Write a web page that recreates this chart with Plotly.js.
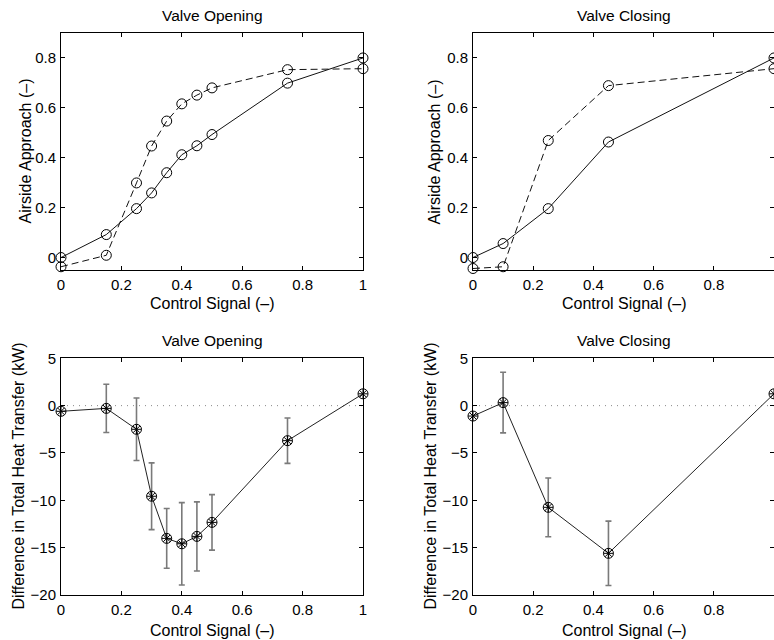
<!DOCTYPE html>
<html>
<head>
<meta charset="utf-8">
<script src="https://cdn.plot.ly/plotly-3.0.1.min.js"></script>
<style>
  html, body { margin: 0; padding: 0; background: #fff; overflow: hidden; }
  #chart { width: 774px; height: 640px; }
</style>
</head>
<body>
<div id="chart"></div>
<script>
// ---- Data ----
// Top-left: Valve Opening, airside approach
const openX = [0, 0.15, 0.25, 0.3, 0.35, 0.4, 0.45, 0.5, 0.75, 1];
const openSolid = [0, 0.092, 0.196, 0.259, 0.34, 0.412, 0.448, 0.493, 0.699, 0.8];
const openDashed = [-0.037, 0.009, 0.299, 0.447, 0.547, 0.616, 0.651, 0.68, 0.753, 0.757];

// Top-right: Valve Closing, airside approach
const closeX = [0, 0.1, 0.25, 0.45, 1];
const closeSolid = [0, 0.056, 0.196, 0.463, 0.8];
const closeDashed = [-0.044, -0.037, 0.469, 0.689, 0.757];

// Bottom-left: Valve Opening, difference in heat transfer
const openDiff = [-0.6, -0.29, -2.5, -9.57, -14.02, -14.59, -13.81, -12.33, -3.7, 1.25];
const openErr = [NaN, 2.55, 3.3, 3.52, 3.15, 4.35, 3.65, 2.93, 2.4, NaN];

// Bottom-right: Valve Closing, difference in heat transfer
const closeDiff = [-1.1, 0.32, -10.74, -15.6, 1.25];
const closeErr = [NaN, 3.2, 3.1, 3.4, NaN];

// Zero reference line
const zeroX = [0, 1];
const zeroY = [0, 0];

// Tick values
const approachTicks = [0, 0.2, 0.4, 0.6, 0.8];
const diffTicks = [-20, -15, -10, -5, 0, 5];
const signalTicks = [0, 0.2, 0.4, 0.6, 0.8, 1];

// Text
const titleOpen = 'Valve Opening';
const titleClose = 'Valve Closing';
const xTitle = 'Control Signal (–)';
const yTitleTop = 'Airside Approach (–)';
const yTitleBottom = 'Difference in Total Heat Transfer (kW)';

// ---- Styling ----
const FONT = 'Liberation Sans, Arial, Helvetica, sans-serif';
const W = 774, H = 640;
const px = v => v / W;
const py = v => 1 - v / H;

const circle = {symbol: 'circle-open', size: 10, color: '#000', line: {width: 1, color: '#000'}};
const star = {symbol: 'asterisk-open', size: 8, color: '#000', line: {width: 1, color: '#000'}};
const solidLine = {color: '#111', width: 1};
const dashedLine = {color: '#111', width: 1, dash: '7px,4px'};
const zeroLine = {color: '#888', width: 1, dash: '1px,5px'};
const errStyle = arr => ({type: 'data', array: arr, visible: true, color: '#7a7a7a', thickness: 1.6, width: 3});

function sc(x, y, xa, ya, extra) {
  return Object.assign({x: x, y: y, xaxis: xa, yaxis: ya, type: 'scatter', cliponaxis: false, hoverinfo: 'skip'}, extra);
}

const data = [
  // top-left
  sc(openX, openSolid, 'x', 'y', {mode: 'lines+markers', line: solidLine, marker: circle}),
  sc(openX, openDashed, 'x', 'y', {mode: 'lines+markers', line: dashedLine, marker: circle}),
  // top-right
  sc(closeX, closeSolid, 'x2', 'y2', {mode: 'lines+markers', line: solidLine, marker: circle}),
  sc(closeX, closeDashed, 'x2', 'y2', {mode: 'lines+markers', line: dashedLine, marker: circle}),
  // bottom-left
  sc(zeroX, zeroY, 'x3', 'y3', {mode: 'lines', line: zeroLine}),
  sc(openX, openDiff, 'x3', 'y3', {mode: 'lines+markers', line: {color: '#222', width: 1}, marker: circle, error_y: errStyle(openErr)}),
  sc(openX, openDiff, 'x3', 'y3', {mode: 'markers', marker: star}),
  // bottom-right
  sc(zeroX, zeroY, 'x4', 'y4', {mode: 'lines', line: zeroLine}),
  sc(closeX, closeDiff, 'x4', 'y4', {mode: 'lines+markers', line: {color: '#222', width: 1}, marker: circle, error_y: errStyle(closeErr)}),
  sc(closeX, closeDiff, 'x4', 'y4', {mode: 'markers', marker: star}),
];

function ax(domain, range, ticks, anchor, extra) {
  return Object.assign({
    domain: domain, range: range, anchor: anchor,
    tickmode: 'array', tickvals: ticks,
    ticks: 'inside', ticklen: 4, tickwidth: 1, tickcolor: '#000',
    showline: true, linecolor: '#000', linewidth: 1, mirror: 'ticks',
    showgrid: false, zeroline: false, fixedrange: true,
    tickfont: {family: FONT, size: 15, color: '#000'},
    ticklabelstandoff: 1,
    automargin: false
  }, extra || {});
}

const xL = [px(61), px(363)];
const xR = [px(473), px(774)];
const yT = [py(270), py(33)];
const yB = [py(595), py(358.3)];

const titleFont = {family: FONT, size: 15.5, color: '#000'};
const labelFont = {family: FONT, size: 16, color: '#000'};
function ann(text, x, y, angle, font) {
  return {text: text, x: x, y: y, xref: 'paper', yref: 'paper', showarrow: false,
          xanchor: 'center', yanchor: 'middle', textangle: angle || 0, font: font};
}

const layout = {
  width: W, height: H,
  margin: {l: 0, r: 0, t: 0, b: 0, pad: 0},
  paper_bgcolor: '#fff', plot_bgcolor: '#fff',
  showlegend: false,
  xaxis: ax(xL, [0, 1], signalTicks, 'y'),
  yaxis: ax(yT, [-0.05, 0.9], approachTicks, 'x'),
  xaxis2: ax(xR, [0, 1], signalTicks, 'y2'),
  yaxis2: ax(yT, [-0.05, 0.9], approachTicks, 'x2'),
  xaxis3: ax(xL, [0, 1], signalTicks, 'y3'),
  yaxis3: ax(yB, [-20, 5], diffTicks, 'x3'),
  xaxis4: ax(xR, [0, 1], signalTicks, 'y4'),
  yaxis4: ax(yB, [-20, 5], diffTicks, 'x4'),
  annotations: [
    ann(titleOpen, px(212), py(15), 0, titleFont),
    ann(titleClose, px(624), py(15), 0, titleFont),
    ann(titleOpen, px(212), py(340), 0, titleFont),
    ann(titleClose, px(624), py(340), 0, titleFont),
    ann(xTitle, px(212), py(303.5), 0, labelFont),
    ann(xTitle, px(624), py(303.5), 0, labelFont),
    ann(xTitle, px(212), py(630), 0, labelFont),
    ann(xTitle, px(624), py(630), 0, labelFont),
    ann(yTitleTop, px(25), py(151.5), -90, labelFont),
    ann(yTitleTop, px(434), py(151.5), -90, labelFont),
    ann(yTitleBottom, px(18), py(476.5), -90, labelFont),
    ann(yTitleBottom, px(430), py(476.5), -90, labelFont)
  ]
};

Plotly.newPlot('chart', data, layout, {staticPlot: true, displayModeBar: false});
</script>
</body>
</html>
